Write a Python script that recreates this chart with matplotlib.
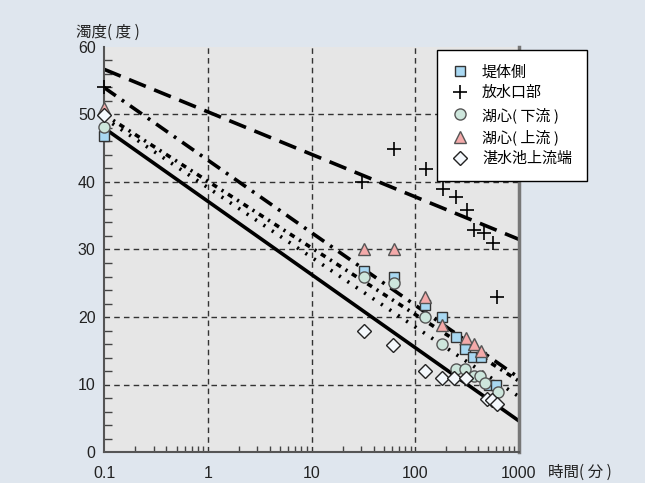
import matplotlib
matplotlib.use("Agg")
import matplotlib.pyplot as plt
from matplotlib.ticker import FixedLocator, NullFormatter

plt.rcParams["font.family"] = ["Liberation Sans", "Noto Sans CJK JP", "DejaVu Sans"]

# observed values
dam_x = [0.1, 32, 62, 124, 183, 246, 303, 362, 430, 517, 604]
dam_y = [46.8, 26.8, 25.9, 21.8, 20.0, 17.0, 15.3, 14.1, 14.1, 10.0, 10.0]

outlet_x = [0.1, 31, 62, 126, 187, 246, 313, 370, 456, 565, 612]
outlet_y = [54.0, 40.0, 44.9, 41.9, 39.0, 37.8, 35.9, 32.9, 32.5, 31.0, 23.0]

lake_down_x = [0.1, 32, 62, 124, 183, 246, 303, 365, 420, 469, 622]
lake_down_y = [48.2, 25.9, 25.0, 20.0, 16.0, 12.3, 12.3, 11.2, 11.2, 10.2, 8.9]

lake_up_x = [0.1, 32, 62, 124, 183, 308, 365, 430]
lake_up_y = [50.9, 30.0, 30.0, 23.0, 18.8, 16.9, 16.0, 15.0]

inflow_x = [0.1, 32, 61, 124, 183, 237, 307, 487, 545, 608]
inflow_y = [49.9, 18.0, 15.9, 12.0, 11.0, 10.9, 10.9, 7.8, 7.7, 7.1]

# fitted lines (end points at 0.1 and 1000 min)
fit_x = [0.1, 1000]
fit_outlet = [56.7, 31.5]
fit_lake_up = [54.0, 11.0]
fit_dam = [50.0, 10.5]
fit_lake_down = [49.5, 8.2]
fit_inflow = [48.0, 4.6]

fig = plt.figure(figsize=(6.45, 4.83), dpi=100, facecolor="#dfe6ee")
ax = fig.add_axes([104 / 645, 1 - 452 / 483, 415 / 645, 405 / 483])
ax.set_facecolor("#e6e6e6")

ax.set_xscale("log")
ax.set_xlim(0.1, 1000)
ax.set_ylim(0, 60)

# grid
ax.set_xticks([0.1, 1, 10, 100, 1000])
ax.set_xticklabels(["0.1", "1", "10", "100", "1000"])
ax.set_yticks(range(0, 70, 10))
for v in [1, 10, 100]:
    ax.axvline(v, color="#333333", lw=1, ls=(0, (4, 3)), zorder=1)
for v in [10, 20, 30, 40, 50]:
    ax.axhline(v, color="#333333", lw=1, ls=(0, (4, 3)), zorder=1)

# fit lines
ax.plot(fit_x, fit_outlet, color="black", lw=2.6, dashes=(5, 2.5), zorder=2)
ax.plot(fit_x, fit_lake_up, color="black", lw=2.6, dashes=(4, 2, 0.8, 2), zorder=2)
ax.plot(fit_x, fit_dam, color="black", lw=2.6, dashes=(1.5, 1.5, 0.6, 1.5), zorder=2)
ax.plot(fit_x, fit_lake_down, color="black", lw=2.6, dashes=(0.6, 2.2), zorder=2)
ax.plot(fit_x, fit_inflow, color="black", lw=2.6, zorder=2)

# points
ms = 7.5
ax.plot(dam_x, dam_y, "s", ms=ms, mfc="#a9d8f2", mec="#333333", mew=1, ls="none",
        label="堤体側", clip_on=False, zorder=5)
ax.plot(outlet_x, outlet_y, "+", ms=10, mec="black", mew=1.2, ls="none",
        label="放水口部", clip_on=False, zorder=5)
ax.plot(lake_down_x, lake_down_y, "o", ms=ms + 0.5, mfc="#cde6dc", mec="#555555", mew=1, ls="none",
        label="湖心( 下流 )", clip_on=False, zorder=5)
ax.plot(lake_up_x, lake_up_y, "^", ms=ms + 1, mfc="#f4aaaa", mec="#555555", mew=1, ls="none",
        label="湖心( 上流 )", clip_on=False, zorder=5)
ax.plot(inflow_x, inflow_y, "D", ms=ms - 0.3, mfc="#f4f8fc", mec="#222222", mew=1, ls="none",
        label="湛水池上流端", clip_on=False, zorder=5)

# ticks and spines
ax.tick_params(which="both", direction="in", colors="#444444", labelcolor="#222222",
               labelsize=11.5)
ax.tick_params(axis="x", which="major", length=0, pad=10)
ax.tick_params(axis="y", which="major", length=0, pad=6)
ax.tick_params(axis="x", which="minor", length=4, width=1)
ax.yaxis.set_minor_locator(FixedLocator([v for v in range(2, 60, 2) if v % 10]))
ax.tick_params(axis="y", which="minor", length=6, width=1)
ax.xaxis.set_minor_formatter(NullFormatter())

ax.spines["top"].set_visible(False)
ax.spines["left"].set_color("#555555")
ax.spines["left"].set_linewidth(1.5)
ax.spines["bottom"].set_color("#555555")
ax.spines["bottom"].set_linewidth(1.5)
ax.spines["right"].set_color("#777777")
ax.spines["right"].set_linewidth(2.5)

cjk = ["Noto Sans CJK JP", "DejaVu Sans"]
fig.text(76 / 645, 1 - 32 / 483, "濁度( 度 )", fontsize=11.2, va="center", ha="left",
         family=cjk, color="#222222")
fig.text(548 / 645, 1 - 472 / 483, "時間( 分 )", fontsize=11.2, va="center", ha="left",
         family=cjk, color="#222222")

leg = ax.legend(loc="upper left", bbox_to_anchor=(437 / 645, 1 - 50 / 483),
                bbox_transform=fig.transFigure, fancybox=False, framealpha=1,
                edgecolor="black", prop={"family": cjk, "size": 10.8},
                handlelength=1.0, handletextpad=1.0, borderpad=1.0, labelspacing=0.45,
                borderaxespad=0)
leg.get_frame().set_linewidth(1)
leg.set_zorder(10)

fig.savefig("out.png", dpi=100, facecolor=fig.get_facecolor())
